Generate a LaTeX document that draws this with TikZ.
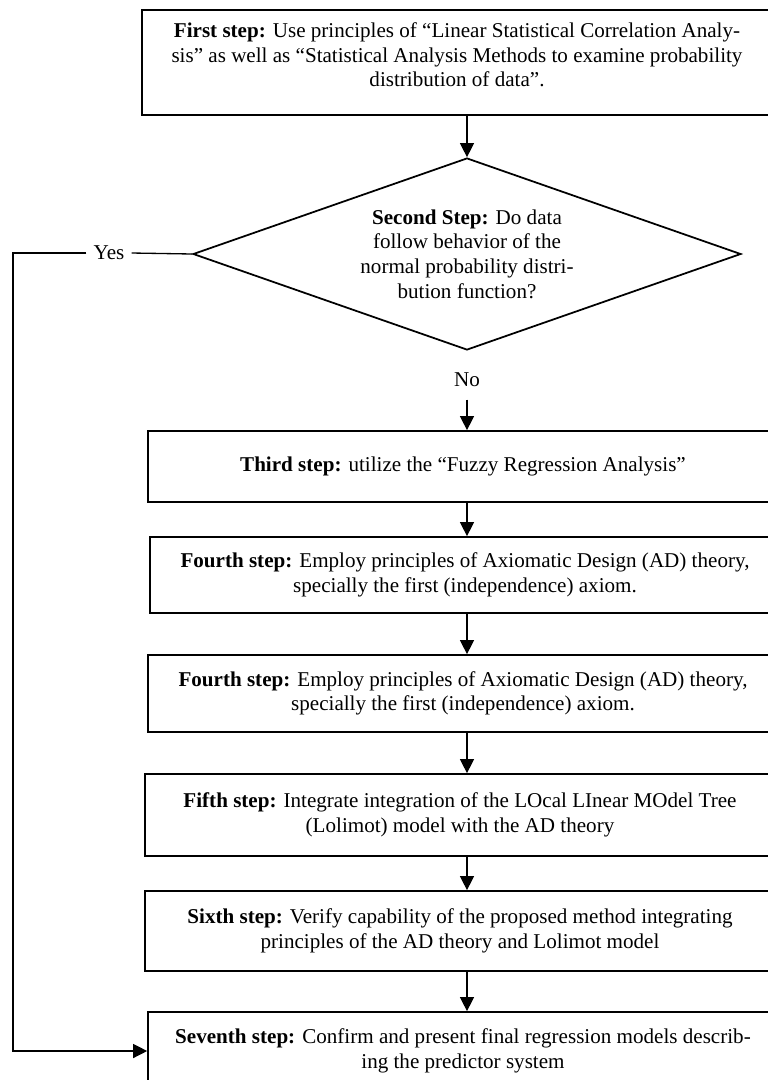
\documentclass[tikz,border=0pt]{standalone}
\usepackage{fontspec}
\setmainfont{Liberation Serif}
\usepackage{tikz}
\usetikzlibrary{shapes.geometric,arrows.meta}
\newcommand{\stepfont}{\fontsize{12}{14}\selectfont}

\begin{document}
\begin{tikzpicture}[x=0.02cm,y=-0.02cm,
  stepbox/.style={rectangle,draw,line width=1pt,minimum width=12.6cm,align=center,font=\stepfont,inner sep=2pt},
  arr/.style={-{Triangle[length=8pt,width=8pt]},line width=0.75pt}]
  \useasboundingbox (0,0) rectangle (768,1080);
  \clip (0,0) rectangle (768,1080);

  \coordinate (S1) at (457,62.5);
  \coordinate (D2) at (467,254);
  \coordinate (S3) at (463,466.5);
  \coordinate (S4) at (465,575);
  \coordinate (S5) at (463,693.5);
  \coordinate (S6) at (460,815);
  \coordinate (S7) at (460,931);
  \coordinate (S8) at (463,1051);
  \coordinate (bend) at (13,253);

  \node[stepbox,minimum height=2.1cm] at (S1) (s1)
    {\textbf{First step:} Use principles of “Linear Statistical Correlation Analy-\\
     sis” as well as “Statistical Analysis Methods to examine probability\\
     distribution of data”.\\[-5pt]};
  \node[
    diamond,
    draw,
    line width=1pt,
    aspect=2.85,
    minimum width=10.96cm,
    minimum height=3.84cm,
    inner sep=0pt,
    align=center,
    font=\stepfont] at (D2) (d2)
    {\textbf{Second Step:} Do data\\ follow behavior of the\\
     normal probability distri-\\ bution function?};
  \node[font=\stepfont,inner sep=4pt] at (109,253) (yes) {Yes};
  \node[font=\stepfont,inner sep=3pt] at (467,380) (no) {No};

  \node[stepbox,minimum height=1.42cm] at (S3) (s3)
    {\textbf{Third step:} utilize the “Fuzzy Regression Analysis”};
  \node[stepbox,minimum height=1.52cm] at (S4) (s4)
    {\textbf{Fourth step:} Employ principles of Axiomatic Design (AD) theory,\\
     specially the first (independence) axiom.};
  \node[stepbox,minimum height=1.54cm] at (S5) (s5)
    {\textbf{Fourth step:} Employ principles of Axiomatic Design (AD) theory,\\
     specially the first (independence) axiom.};
  \node[stepbox,minimum height=1.64cm] at (S6) (s6)
    {\textbf{Fifth step:} Integrate integration of the LOcal LInear MOdel Tree\\
     (Lolimot) model with the AD theory};
  \node[stepbox,minimum height=1.6cm] at (S7) (s7)
    {\textbf{Sixth step:} Verify capability of the proposed method integrating\\
     principles of the AD theory and Lolimot model};
  \node[stepbox,minimum height=1.56cm] at (S8) (s8)
    {\textbf{Seventh step:} Confirm and present final regression models describ-\\
     ing the predictor system};

  \draw[arr] (s1.south -| d2.north) -- (d2.north);
  \draw[arr] ([yshift=-4pt]no.south) -- (no.south |- s3.north);
  \draw[arr] (s3.south -| d2.north) -- (s4.north -| d2.north);
  \draw[arr] (s4.south -| d2.north) -- (s5.north -| d2.north);
  \draw[arr] (s5.south -| d2.north) -- (s6.north -| d2.north);
  \draw[arr] (s6.south -| d2.north) -- (s7.north -| d2.north);
  \draw[arr] (s7.south -| d2.north) -- (s8.north -| d2.north);

  \draw[line width=0.75pt] (d2.west) -- (yes.east);
  \draw[arr] (yes.west) -- (bend) |- (s8.west);

\end{tikzpicture}
\end{document}
